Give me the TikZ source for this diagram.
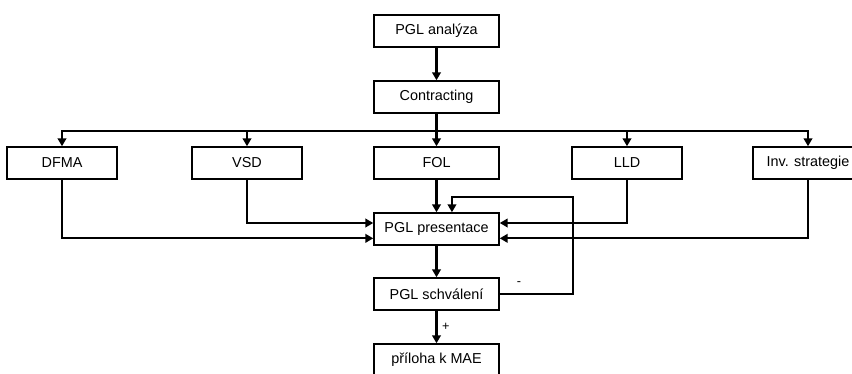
\documentclass[tikz,border=0pt]{standalone}
\usepackage{fontspec}
\setmainfont{Liberation Sans}
\usetikzlibrary{arrows.meta}

\begin{document}
\begin{tikzpicture}[x=0.75pt,y=-0.75pt,%%
  boxStyle/.style={draw,line width=1.1pt,minimum height=24pt,inner sep=0pt,font=\fontsize{10.8}{12}\selectfont},%%
  wideBox/.style={boxStyle,minimum width=93.75pt},%%
  sideBox/.style={boxStyle,minimum width=82.5pt},%%
  arrowStyle/.style={-{Triangle[length=6pt,width=6.5pt]},line width=1.6pt},%%
  labelStyle/.style={font=\fontsize{9.5}{11}\selectfont}%%
]
%%
\useasboundingbox (0,0) rectangle (852,374);
%%
%% The main column.
\node[wideBox] (analyza) at (436.5,31) {PGL analýza};
\node[wideBox] (contracting) at (436.5,97) {Contracting};
\node[wideBox] (fol) at (436.5,163) {FOL};
\node[wideBox] (presentace) at (436.5,229) {PGL presentace};
\node[wideBox] (schvaleni) at (436.5,294) {PGL schválení};
\node[wideBox] (priloha) at (436.5,360) {příloha k MAE};
%%
%% The side boxes.
\node[sideBox] (dfma) at (62,163) {DFMA};
\node[sideBox] (vsd) at (247,163) {VSD};
\node[sideBox] (lld) at (627,163) {LLD};
\node[sideBox] (inv) at (808,163) {Inv. strategie};
%%
%% Top of the column.
\draw[arrowStyle] (analyza.south) -- (contracting.north);
\draw[arrowStyle] (contracting.south) -- (fol.north);
%%
%% Branch to the side boxes.
\coordinate (bus) at (436.5,131);
\foreach \n in {dfma,vsd,lld,inv}
  \draw[arrowStyle] (bus) -| (\n.north);
%%
%% Inputs of the presentation.
\draw[arrowStyle] (dfma.south) |- ([yshift=-7pt]presentace.west);
\draw[arrowStyle] (vsd.south) |- ([yshift=4.5pt]presentace.west);
\draw[arrowStyle] (lld.south) |- ([yshift=4.5pt]presentace.east);
\draw[arrowStyle] (inv.south) |- ([yshift=-7pt]presentace.east);
%%
%% Approval and its loop back.
\draw[arrowStyle] (fol.south) -- (presentace.north);
\draw[arrowStyle] (presentace.south) -- (schvaleni.north);
\draw[arrowStyle] (schvaleni.south) -- node[labelStyle,right] (plus) {+} (priloha.north);
\coordinate (loopCorner) at (573,197);
\draw[arrowStyle] (schvaleni.east) -| (loopCorner) -| ([xshift=11.6pt]presentace.north);
\node[labelStyle] (minus) at (519,284) {-};
\end{tikzpicture}
\end{document}
